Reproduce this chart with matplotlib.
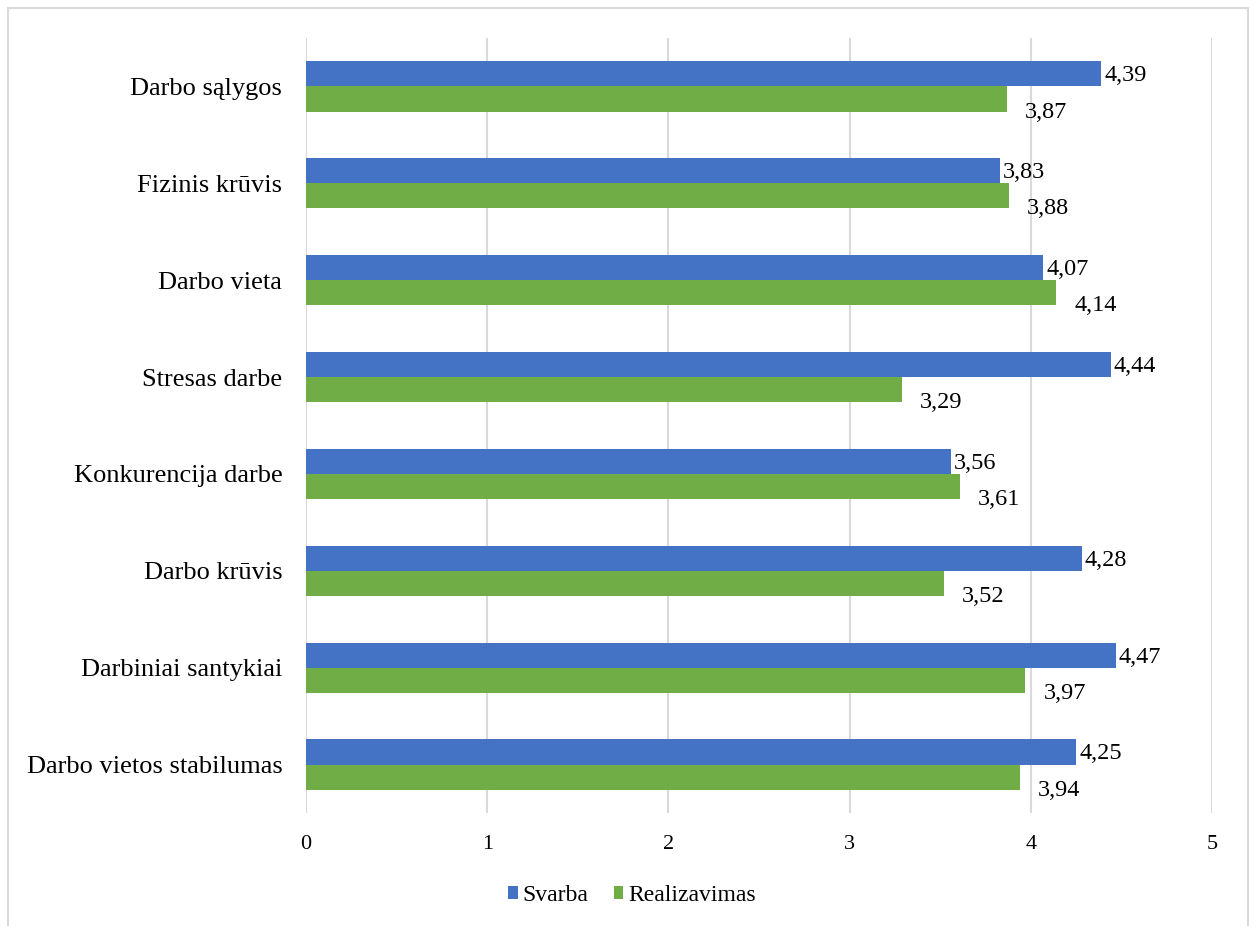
import matplotlib
matplotlib.use("Agg")
import matplotlib.pyplot as plt
import numpy as np
from matplotlib.patches import Rectangle

categories = ["Darbo sąlygos", "Fizinis krūvis", "Darbo vieta", "Stresas darbe",
              "Konkurencija darbe", "Darbo krūvis", "Darbiniai santykiai",
              "Darbo vietos stabilumas"]
svarba = [4.39, 3.83, 4.07, 4.44, 3.56, 4.28, 4.47, 4.25]
realizavimas = [3.87, 3.88, 4.14, 3.29, 3.61, 3.52, 3.97, 3.94]
x_ticks = [0, 1, 2, 3, 4, 5]

plt.rcParams['font.family'] = ['Liberation Serif', 'DejaVu Serif']

blue = "#4472C4"
green = "#70AD47"

fig = plt.figure(figsize=(12.54, 9.26), dpi=100)
ax = fig.add_axes([0.244, 0.122, 0.7225, 0.837])

y = np.arange(len(categories))
h = 0.26
ax.barh(y - h / 2, svarba, height=h, color=blue, label="Svarba", zorder=3)
ax.barh(y + h / 2, realizavimas, height=h, color=green, label="Realizavimas", zorder=3)

def fmt(v):
    return f"{v:.2f}".replace(".", ",")

for yi, v in zip(y, svarba):
    ax.annotate(fmt(v), (v, yi - h / 2), xytext=(3, -2), textcoords="offset pixels",
                ha="left", va="center", fontsize=17.5)
for yi, v in zip(y, realizavimas):
    ax.annotate(fmt(v), (v, yi + h / 2), xytext=(18, -13), textcoords="offset pixels",
                ha="left", va="center", fontsize=17.5)

ax.set_xlim(0, 5)
ax.set_ylim(len(categories) - 0.5, -0.5)
ax.set_xticks(x_ticks)
ax.set_xticklabels([str(t) for t in x_ticks], fontsize=16)
ax.set_yticks(y)
ax.set_yticklabels(categories, fontsize=19)
ax.tick_params(axis="both", length=0)
ax.tick_params(axis="x", pad=16)
ax.tick_params(axis="y", pad=17)
ax.grid(axis="x", color="#d9d9d9", linewidth=1.5, zorder=0)
for s in ax.spines.values():
    s.set_visible(False)

leg = fig.legend(loc="center", bbox_to_anchor=(0.504, 0.033), ncol=2, frameon=False,
                 fontsize=17, handlelength=0.42, handleheight=0.42, handletextpad=0.22,
                 columnspacing=1.05)

fig.patches.append(Rectangle((8 / 1254, -0.05), 1240 / 1254, 1.05 - 8 / 926,
                             transform=fig.transFigure, fill=False,
                             edgecolor="#d9d9d9", linewidth=1.5))

fig.savefig("out.png", dpi=100)
